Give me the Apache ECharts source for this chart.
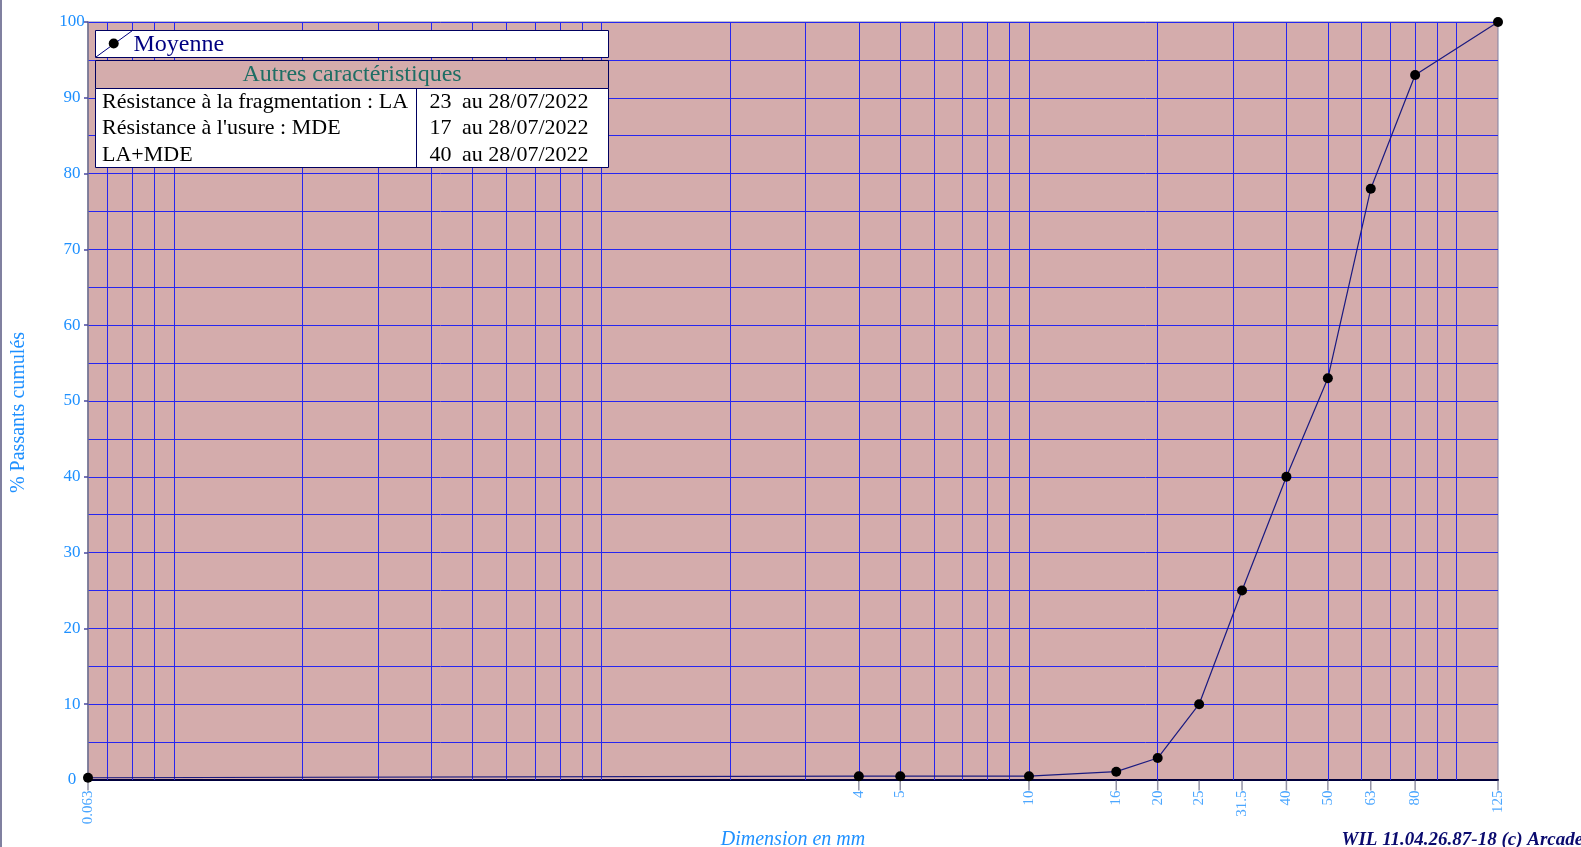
<!DOCTYPE html>
<html>
<head>
<meta charset="utf-8">
<script src="https://cdn.jsdelivr.net/npm/echarts@6/dist/echarts.min.js"></script>
<style>
html,body{margin:0;padding:0;background:#ffffff;}
#chart{width:1581px;height:847px;}
</style>
</head>
<body>
<div id="chart"></div>
<script>
// ---- data ----
const sieveSizes = [0.063, 4, 5, 10, 16, 20, 25, 31.5, 40, 50, 63, 80, 125];
const passingPct = [0.3, 0.5, 0.5, 0.5, 1.1, 2.9, 10, 25, 40, 53, 78, 93, 100];
const xTickLabels = ['0.063', '4', '5', '10', '16', '20', '25', '31.5', '40', '50', '63', '80', '125'];
const xGridValues = [0.07, 0.08, 0.09, 0.1, 0.2, 0.3, 0.4, 0.5, 0.6, 0.7, 0.8, 0.9,
  1, 2, 3, 4, 5, 6, 7, 8, 9, 10, 20, 30, 40, 50, 60, 70, 80, 90, 100];
const seriesName = 'Moyenne';
const xTitle = 'Dimension en mm';
const yTitle = '% Passants cumulés';
const footerText = 'WIL 11.04.26.87-18 (c) Arcade';
const tableTitle = 'Autres caractéristiques';
const charLabels = ['Résistance à la fragmentation : LA', "Résistance à l'usure : MDE", 'LA+MDE'];
const charValues = ['23', '17', '40'];
const charDates = ['au 28/07/2022', 'au 28/07/2022', 'au 28/07/2022'];

// ---- styles ----
const SERIF = '"Liberation Serif", "DejaVu Serif", serif';
const LABEL_BLUE = '#1E90FF';
const GRID_BLUE = '#2626f0';
const PLOT_BG = '#D4ACAC';
const NAVY = '#000080';

const chart = echarts.init(document.getElementById('chart'), null, {renderer: 'canvas'});

const graphics = [];
// left page border
graphics.push({type: 'line', shape: {x1: 1, y1: 0, x2: 1, y2: 847}, style: {stroke: '#8080a0', lineWidth: 2}, z: 100});
// y axis title
graphics.push({type: 'text', x: 18.5, y: 412.5, rotation: Math.PI / 2, style: {text: yTitle, font: '20px ' + SERIF, fill: LABEL_BLUE, textAlign: 'center', textVerticalAlign: 'middle'}, z: 102});
// legend box
graphics.push({type: 'rect', shape: {x: 95.5, y: 30.5, width: 513, height: 27}, style: {fill: '#ffffff', stroke: '#000060', lineWidth: 1}, z: 100});
graphics.push({type: 'line', shape: {x1: 96, y1: 57, x2: 132.5, y2: 30.5}, style: {stroke: NAVY, lineWidth: 1}, z: 101});
graphics.push({type: 'circle', shape: {cx: 113.7, cy: 43.5, r: 5}, style: {fill: '#000000'}, z: 102});
graphics.push({type: 'text', x: 133.5, y: 44.5, style: {text: seriesName, font: '24px ' + SERIF, fill: NAVY, textAlign: 'left', textVerticalAlign: 'middle'}, z: 102});
// table header
graphics.push({type: 'rect', shape: {x: 95.5, y: 60.5, width: 513, height: 28}, style: {fill: PLOT_BG, stroke: '#000060', lineWidth: 1}, z: 100});
graphics.push({type: 'text', x: 352, y: 75, style: {text: tableTitle, font: '24px ' + SERIF, fill: '#1e6e64', textAlign: 'center', textVerticalAlign: 'middle'}, z: 102});
// table body
graphics.push({type: 'rect', shape: {x: 95.5, y: 88.5, width: 513, height: 79}, style: {fill: '#ffffff', stroke: '#000060', lineWidth: 1}, z: 100});
graphics.push({type: 'line', shape: {x1: 416.5, y1: 88.5, x2: 416.5, y2: 167.5}, style: {stroke: '#000060', lineWidth: 1}, z: 101});
const rowY = [102, 128.5, 155];
charLabels.forEach((t, i) => {
  graphics.push({type: 'text', x: 102, y: rowY[i], style: {text: t, font: '22px ' + SERIF, fill: '#000000', textAlign: 'left', textVerticalAlign: 'middle'}, z: 102});
  graphics.push({type: 'text', x: 429.5, y: rowY[i], style: {text: charValues[i], font: '22px ' + SERIF, fill: '#000000', textAlign: 'left', textVerticalAlign: 'middle'}, z: 102});
  graphics.push({type: 'text', x: 462, y: rowY[i], style: {text: charDates[i], font: '22px ' + SERIF, fill: '#000000', textAlign: 'left', textVerticalAlign: 'middle'}, z: 102});
});
// footer
graphics.push({type: 'text', x: 1341.5, y: 840, style: {text: footerText, font: 'italic bold 19px ' + SERIF, fill: '#0a0a6e', textAlign: 'left', textVerticalAlign: 'middle'}, z: 102});

const option = {
  animation: false,
  backgroundColor: '#ffffff',
  grid: {
    left: 88, right: 83, top: 22, bottom: 67,
    containLabel: false,
    outerBoundsMode: 'none',
    show: true, backgroundColor: PLOT_BG, borderColor: '#8080a0', borderWidth: 1
  },
  xAxis: {
    type: 'log', logBase: 10, min: 0.063, max: 125,
    name: xTitle, nameLocation: 'middle', nameGap: 50,
    nameTextStyle: {color: LABEL_BLUE, fontFamily: SERIF, fontSize: 20, fontStyle: 'italic'},
    axisLine: {show: true, lineStyle: {color: '#00003c', width: 2}},
    axisTick: {show: false},
    axisLabel: {show: false},
    splitLine: {show: false},
    minorTick: {show: false},
    minorSplitLine: {show: false}
  },
  yAxis: {
    type: 'value', min: 0, max: 100, interval: 10,
    axisLine: {show: true, lineStyle: {color: '#707090', width: 1.5}},
    axisTick: {show: true, length: 4, lineStyle: {color: '#4a4aa0', width: 1.5}},
    axisLabel: {color: LABEL_BLUE, fontFamily: SERIF, fontSize: 17, margin: 16, align: 'center'},
    splitLine: {show: true, lineStyle: {color: GRID_BLUE, width: 1}},
    minorTick: {show: false, splitNumber: 2},
    minorSplitLine: {show: true, lineStyle: {color: GRID_BLUE, width: 1}}
  },
  graphic: graphics,
  series: [
    {
      name: 'grid-lines',
      type: 'line',
      data: [],
      silent: true,
      z: 1,
      markLine: {
        silent: true,
        symbol: ['none', 'none'],
        label: {show: false},
        lineStyle: {color: GRID_BLUE, width: 1, type: 'solid'},
        emphasis: {disabled: true},
        data: xGridValues.map(v => ({xAxis: v}))
      }
    },
    {
      name: 'x-ticks',
      type: 'scatter',
      silent: true,
      clip: false,
      z: 3,
      data: sieveSizes.map(v => [v, 0]),
      symbol: 'rect',
      symbolSize: [1.5, 10],
      symbolOffset: [0, 5.5],
      itemStyle: {color: '#787890'},
      label: {
        show: true,
        position: 'bottom',
        distance: 0,
        rotate: 90,
        align: 'right',
        verticalAlign: 'middle',
        color: LABEL_BLUE,
        fontFamily: SERIF,
        fontSize: 15,
        formatter: p => xTickLabels[p.dataIndex]
      }
    },
    {
      name: seriesName,
      type: 'line',
      clip: false,
      z: 5,
      data: sieveSizes.map((v, i) => [v, passingPct[i]]),
      symbol: 'circle',
      symbolSize: 10,
      showAllSymbol: true,
      itemStyle: {color: '#000000'},
      lineStyle: {color: '#1a1a80', width: 1.2}
    }
  ]
};
chart.setOption(option);
</script>
</body>
</html>
